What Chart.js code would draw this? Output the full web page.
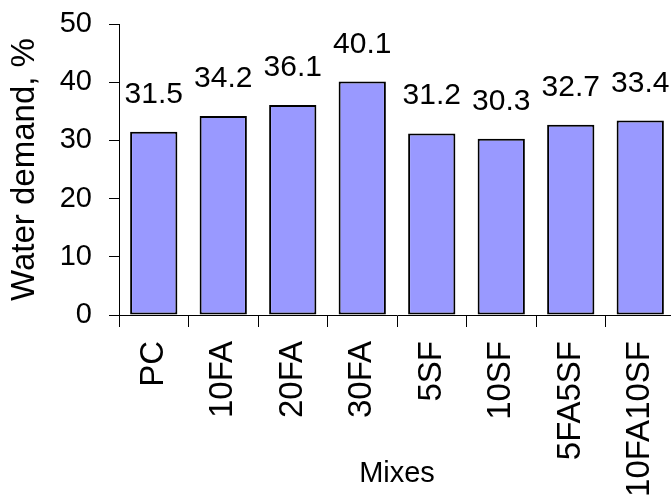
<!DOCTYPE html>
<html>
<head>
<meta charset="utf-8">
<script src="https://cdn.jsdelivr.net/npm/chart.js@4"></script>
<style>
  html, body { margin: 0; padding: 0; background: #fff; overflow: hidden; }
  #wrap { width: 671px; height: 501px; overflow: hidden; }
</style>
</head>
<body>
<div id="wrap"><canvas id="chart" width="690" height="501"></canvas></div>
<script>
const mixes = ["PC", "10FA", "20FA", "30FA", "5SF", "10SF", "5FA5SF", "10FA10SF"];
const waterDemand = [31.5, 34.2, 36.1, 40.1, 31.2, 30.3, 32.7, 33.4];
const yTicks = [0, 10, 20, 30, 40, 50];

const FONT = "'Liberation Sans', Arial, sans-serif";

// values written above each bar
const valueLabels = {
  id: "valueLabels",
  afterDatasetsDraw(chart) {
    const ctx = chart.ctx;
    const meta = chart.getDatasetMeta(0);
    ctx.save();
    ctx.font = "30px " + FONT;
    ctx.fillStyle = "#000";
    ctx.textAlign = "center";
    ctx.textBaseline = "alphabetic";
    meta.data.forEach((bar, i) => {
      ctx.fillText(waterDemand[i].toFixed(1), bar.x, bar.y - 29);
    });
    ctx.restore();
  }
};

new Chart(document.getElementById("chart").getContext("2d"), {
  type: "bar",
  data: {
    labels: mixes,
    datasets: [{
      data: waterDemand,
      backgroundColor: "#9999ff",
      borderColor: "#000",
      borderWidth: 2,
      borderSkipped: false,
      barPercentage: 0.68,
      categoryPercentage: 1.0
    }]
  },
  options: {
    responsive: false,
    devicePixelRatio: 1,
    animation: false,
    layout: { padding: { top: 24, right: 15, left: 0, bottom: 0 } },
    plugins: {
      legend: { display: false },
      tooltip: { enabled: false }
    },
    scales: {
      x: {
        offset: true,
        grid: { offset: true, drawOnChartArea: false, drawTicks: true, tickLength: 12, color: "#000" },
        border: { color: "#000", width: 1 },
        ticks: {
          minRotation: 90, maxRotation: 90, autoSkip: false,
          padding: 14, color: "#000",
          font: { family: FONT, size: 33 }
        },
        title: {
          display: true, text: "Mixes", color: "#000",
          font: { family: FONT, size: 29 },
          padding: { top: 0, bottom: 10 }
        },
        afterFit(scale) {
          scale.height = 186;
          scale.paddingLeft = 0;
          scale.paddingRight = 0;
        }
      },
      y: {
        min: 0, max: 50,
        afterBuildTicks(scale) { scale.ticks = yTicks.map(v => ({ value: v })); },
        grid: { drawOnChartArea: false, drawTicks: true, tickLength: 10, color: "#000" },
        border: { color: "#000", width: 1 },
        ticks: {
          padding: 17, color: "#000",
          font: { family: FONT, size: 29 }
        },
        title: {
          display: true, text: "Water demand, %", color: "#000",
          font: { family: FONT, size: 33 },
          padding: { top: 5, bottom: 0 }
        },
        afterFit(scale) {
          scale.width = 119;
          scale.paddingTop = 0;
          scale.paddingBottom = 0;
        }
      }
    }
  },
  plugins: [valueLabels]
});
</script>
</body>
</html>
